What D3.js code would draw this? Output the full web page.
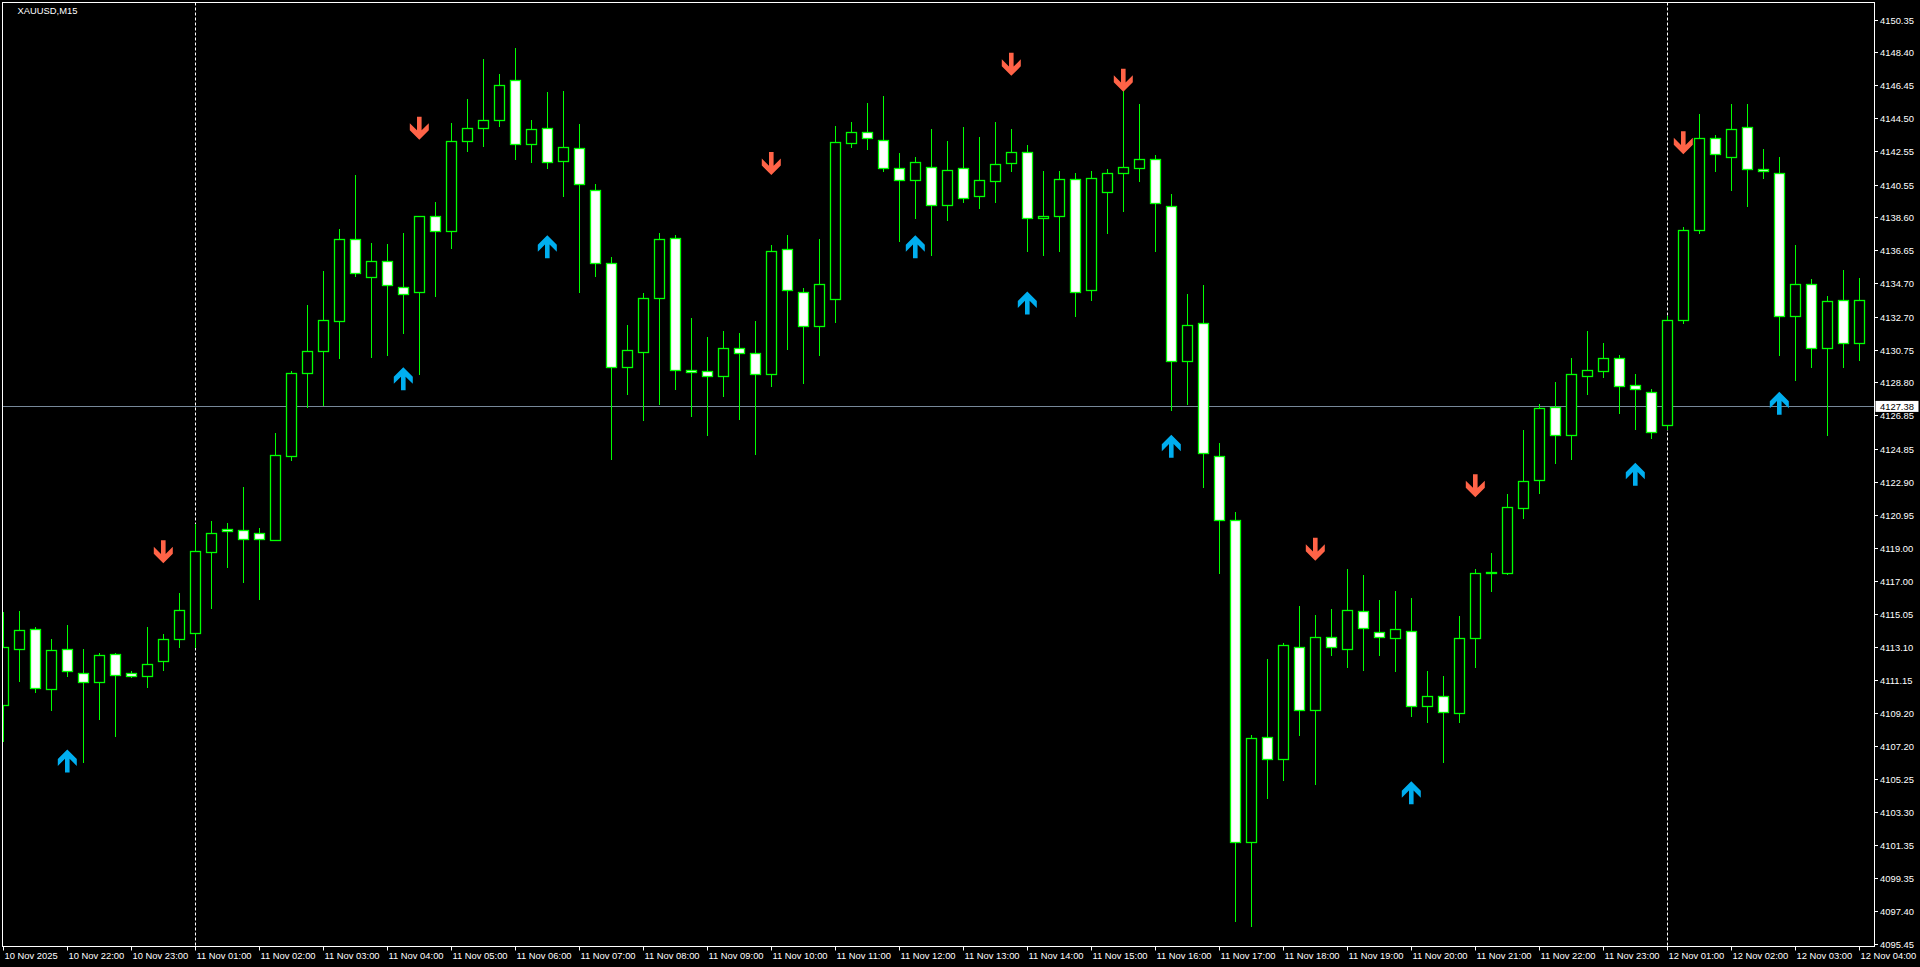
<!DOCTYPE html>
<html><head><meta charset="utf-8">
<script src="https://cdn.jsdelivr.net/npm/d3@7"></script>
<style>html,body{margin:0;padding:0;background:#000;overflow:hidden}svg{display:block}</style>
</head><body>
<script>
const symbolTitle = "XAUUSD,M15";
const opens  = [4109.63,4112.98,4114.14,4110.58,4112.98,4111.52,4111.01,4112.68,4111.52,4111.38,4112.25,4113.56,4113.90,4118.75,4120.08,4120.03,4119.84,4119.42,4124.41,4129.34,4130.65,4132.43,4137.30,4135.08,4135.99,4134.45,4134.19,4138.66,4137.78,4143.12,4143.89,4144.36,4146.74,4142.94,4143.89,4141.98,4142.71,4140.24,4135.88,4129.70,4130.64,4133.84,4137.40,4129.55,4129.48,4129.19,4130.86,4130.57,4129.33,4136.75,4134.20,4132.17,4133.77,4143.00,4143.66,4143.22,4141.55,4140.82,4141.62,4139.37,4141.55,4139.88,4140.75,4141.84,4142.49,4138.57,4138.71,4140.89,4134.28,4140.09,4141.26,4141.55,4142.06,4139.29,4130.06,4132.31,4124.46,4120.61,4101.49,4107.74,4106.43,4113.12,4109.34,4113.70,4112.98,4115.23,4113.99,4113.63,4114.06,4109.56,4110.21,4109.19,4113.63,4117.48,4117.48,4121.34,4123.01,4127.37,4125.70,4129.19,4129.48,4130.28,4128.68,4128.24,4126.28,4132.53,4137.84,4143.29,4142.20,4143.95,4141.48,4141.26,4132.75,4134.64,4130.86,4133.70,4131.15];
const highs  = [4115.16,4115.23,4114.29,4113.56,4114.39,4112.98,4112.76,4112.76,4111.67,4114.29,4113.85,4116.30,4120.38,4120.57,4120.46,4122.59,4120.16,4125.80,4129.50,4133.40,4135.42,4137.91,4141.12,4137.06,4137.00,4137.67,4138.66,4139.50,4144.19,4145.63,4148.01,4147.12,4148.66,4144.36,4146.03,4146.13,4144.17,4140.60,4136.24,4132.24,4134.13,4137.70,4137.55,4132.61,4131.51,4131.88,4131.73,4132.46,4136.97,4137.55,4134.42,4137.33,4144.02,4144.24,4145.40,4145.84,4142.42,4142.20,4143.88,4143.15,4143.95,4143.37,4144.24,4143.88,4142.93,4141.33,4141.33,4141.26,4141.33,4141.48,4146.20,4145.33,4142.28,4140.02,4134.06,4134.57,4125.19,4121.12,4107.88,4112.39,4113.34,4115.52,4115.01,4115.37,4117.70,4117.34,4115.88,4116.39,4116.03,4111.67,4111.38,4114.94,4117.70,4118.65,4122.18,4125.97,4127.52,4128.82,4130.28,4131.88,4131.15,4130.42,4129.33,4128.39,4132.75,4138.06,4144.75,4143.51,4145.33,4145.33,4142.64,4142.20,4136.97,4134.93,4133.91,4135.51,4135.00];
const lows   = [4107.52,4111.08,4110.43,4109.34,4111.38,4106.29,4108.83,4107.81,4111.30,4110.72,4111.74,4113.12,4113.12,4115.42,4117.86,4116.97,4115.94,4119.42,4124.20,4127.36,4127.44,4130.27,4135.14,4130.33,4130.43,4131.75,4129.28,4133.95,4136.80,4142.56,4142.86,4144.04,4142.09,4141.91,4141.55,4139.88,4134.20,4135.15,4124.24,4128.10,4126.57,4127.52,4128.39,4126.79,4125.70,4128.02,4126.64,4124.53,4128.61,4130.79,4128.75,4130.42,4132.39,4142.79,4142.64,4141.33,4137.19,4138.57,4136.39,4138.42,4139.51,4139.15,4139.51,4141.33,4136.60,4136.39,4136.60,4132.75,4133.70,4137.70,4139.00,4140.75,4136.60,4127.15,4127.52,4122.57,4117.48,4096.83,4096.54,4104.10,4105.19,4107.88,4104.98,4112.61,4111.88,4111.74,4112.61,4111.67,4108.97,4108.61,4106.29,4108.61,4111.88,4116.39,4117.40,4120.77,4122.26,4124.03,4124.24,4128.10,4129.12,4127.01,4126.06,4125.48,4126.06,4132.31,4137.70,4141.33,4140.24,4139.29,4140.97,4130.42,4128.97,4129.70,4125.70,4129.70,4130.13];
const closes = [4113.12,4114.10,4110.65,4112.90,4111.67,4111.01,4112.61,4111.45,4111.38,4112.10,4113.56,4115.27,4118.78,4119.84,4119.96,4119.48,4119.48,4124.48,4129.34,4130.65,4132.49,4137.30,4135.28,4135.99,4134.57,4134.04,4138.66,4137.78,4143.12,4143.89,4144.36,4146.44,4142.94,4143.83,4141.91,4142.78,4140.60,4135.88,4129.70,4130.71,4133.84,4137.33,4129.55,4129.41,4129.19,4130.86,4130.57,4129.33,4136.60,4134.28,4132.17,4134.64,4143.08,4143.66,4143.29,4141.55,4140.82,4141.91,4139.37,4141.40,4139.73,4140.82,4141.77,4142.49,4138.57,4138.71,4140.89,4134.20,4140.97,4141.26,4141.62,4142.06,4139.44,4130.06,4132.24,4124.61,4120.61,4101.49,4107.67,4106.43,4113.19,4109.34,4113.70,4113.12,4115.30,4114.21,4113.70,4114.14,4109.56,4110.21,4109.26,4113.63,4117.48,4117.55,4121.41,4122.94,4127.30,4125.70,4129.33,4129.55,4130.28,4128.61,4128.39,4125.84,4132.53,4137.84,4143.29,4142.35,4143.88,4141.48,4141.33,4132.75,4134.64,4130.86,4133.62,4131.15,4133.70];

const upArrowBars    = [4, 25, 34, 57, 64, 73, 88, 102, 111];
const upArrowPrices  = [4107.01, 4129.70, 4137.55, 4137.55, 4134.21, 4125.70, 4105.12, 4124.03, 4128.25];
const downArrowBars  = [10, 26, 48, 63, 70, 82, 92, 105];
const downArrowPrices= [4118.07, 4143.22, 4141.12, 4147.01, 4146.06, 4118.21, 4121.99, 4142.35];

const priceTicks = [4150.35,4148.40,4146.45,4144.50,4142.55,4140.55,4138.60,4136.65,4134.70,4132.70,4130.75,4128.80,4126.85,4124.85,4122.90,4120.95,4119.00,4117.00,4115.05,4113.10,4111.15,4109.20,4107.20,4105.25,4103.30,4101.35,4099.35,4097.40,4095.45];
const timeLabels = ["10 Nov 2025","10 Nov 22:00","10 Nov 23:00","11 Nov 01:00","11 Nov 02:00","11 Nov 03:00","11 Nov 04:00","11 Nov 05:00","11 Nov 06:00","11 Nov 07:00","11 Nov 08:00","11 Nov 09:00","11 Nov 10:00","11 Nov 11:00","11 Nov 12:00","11 Nov 13:00","11 Nov 14:00","11 Nov 15:00","11 Nov 16:00","11 Nov 17:00","11 Nov 18:00","11 Nov 19:00","11 Nov 20:00","11 Nov 21:00","11 Nov 22:00","11 Nov 23:00","12 Nov 01:00","12 Nov 02:00","12 Nov 03:00","12 Nov 04:00"];
const barsPerLabel = 4;
const daySeparatorBars = [12, 104];
const bidPrice = 4127.38;

const W = 1920, H = 967;
const frame = {l: 2.5, t: 2.5, r: 1874.5, b: 946.5};
const GREEN = "#00FF00", FG = "#FFFFFF", BID = "#778899";
const RED = "#FF6347", BLUE = "#00AEEF";
const FONT = "'Liberation Sans', Arial, sans-serif";
const FS = 9.4;

const svg = d3.select("body").append("svg").attr("width", W).attr("height", H)
  .style("background", "#000");

const n = opens.length;
const x = d3.scaleLinear().domain([0, n - 1]).range([3.3, 3.3 + 16 * (n - 1)]);
const y = d3.scaleLinear().domain([4095.45, 4150.35]).range([944.1, 19.6]);
const px = i => Math.round(x(i)) + 0.5;

svg.append("defs").append("clipPath").attr("id", "plot")
  .append("rect").attr("x", frame.l).attr("y", frame.t)
  .attr("width", frame.r - frame.l).attr("height", frame.b - frame.t);

const plot = svg.append("g").attr("clip-path", "url(#plot)");

// day separators
plot.selectAll("line.sep").data(daySeparatorBars).enter().append("line")
  .attr("x1", d => px(d)).attr("x2", d => px(d))
  .attr("y1", frame.t).attr("y2", frame.b)
  .attr("stroke", FG).attr("stroke-width", 1).attr("stroke-dasharray", "3,2");

// bid line
plot.append("line").attr("x1", frame.l).attr("x2", frame.r)
  .attr("y1", Math.round(y(bidPrice)) + 0.5).attr("y2", Math.round(y(bidPrice)) + 0.5)
  .attr("stroke", BID).attr("stroke-width", 1);

// candles
const bars = d3.range(n).map(i => ({i, o: opens[i], h: highs[i], l: lows[i], c: closes[i]}));
const g = plot.append("g");
g.selectAll("line.wick").data(bars).enter().append("line")
  .attr("x1", d => px(d.i)).attr("x2", d => px(d.i))
  .attr("y1", d => Math.round(y(d.h))).attr("y2", d => Math.round(y(d.l)) + 1)
  .attr("stroke", GREEN).attr("stroke-width", 1);
g.selectAll("rect.body").data(bars).enter().append("rect")
  .attr("x", d => px(d.i) - 5)
  .attr("y", d => Math.round(y(Math.max(d.o, d.c))) + 0.5)
  .attr("width", 10)
  .attr("height", d => Math.max(1, Math.round(y(Math.min(d.o, d.c))) - Math.round(y(Math.max(d.o, d.c)))))
  .attr("fill", d => d.c >= d.o ? "#000" : "#FFF")
  .attr("stroke", GREEN).attr("stroke-width", 1.3);

// arrows
const downPath = "M0,0 L9.5,-9.5 L9.5,-16.5 L2.3,-9.3 L2.3,-23 L-2.3,-23 L-2.3,-9.3 L-9.5,-16.5 L-9.5,-9.5 Z";
const upPath = "M0,0 L9.5,9.5 L9.5,16.5 L2.3,9.3 L2.3,23 L-2.3,23 L-2.3,9.3 L-9.5,16.5 L-9.5,9.5 Z";
plot.selectAll("path.dn").data(downArrowBars.map((b, k) => ({b, p: downArrowPrices[k]}))).enter()
  .append("path").attr("d", downPath)
  .attr("transform", d => `translate(${x(d.b)},${y(d.p)})`)
  .attr("fill", RED);
plot.selectAll("path.up").data(upArrowBars.map((b, k) => ({b, p: upArrowPrices[k]}))).enter()
  .append("path").attr("d", upPath)
  .attr("transform", d => `translate(${x(d.b)},${y(d.p)})`)
  .attr("fill", BLUE);

// frame
svg.append("rect").attr("x", frame.l).attr("y", frame.t)
  .attr("width", frame.r - frame.l).attr("height", frame.b - frame.t)
  .attr("fill", "none").attr("stroke", FG).attr("stroke-width", 1);

// title
svg.append("text").attr("x", 17.5).attr("y", 14).text(symbolTitle)
  .attr("fill", FG).attr("font-family", FONT).attr("font-size", FS);

// price axis
const pa = svg.append("g");
priceTicks.forEach(p => {
  const yy = Math.round(y(p)) + 0.5;
  pa.append("line").attr("x1", frame.r).attr("x2", frame.r + 3.5).attr("y1", yy).attr("y2", yy)
    .attr("stroke", FG).attr("stroke-width", 1);
  pa.append("text").attr("x", frame.r + 5.5).attr("y", yy).attr("dy", "0.35em")
    .text(p.toFixed(2)).attr("fill", FG).attr("font-family", FONT).attr("font-size", FS);
});

// bid label
const by = y(bidPrice);
pa.append("rect").attr("x", frame.r + 1).attr("y", by - 5.5).attr("width", 43).attr("height", 11).attr("fill", "#FFF");
pa.append("text").attr("x", frame.r + 5.5).attr("y", by).attr("dy", "0.35em").text(bidPrice.toFixed(2))
  .attr("fill", "#000").attr("font-family", FONT).attr("font-size", FS);

// time axis
const ta = svg.append("g");
timeLabels.forEach((t, k) => {
  const xx = px(k * barsPerLabel);
  ta.append("line").attr("x1", xx).attr("x2", xx).attr("y1", frame.b).attr("y2", frame.b + 4)
    .attr("stroke", FG).attr("stroke-width", 1);
  ta.append("text").attr("x", xx + 1).attr("y", frame.b + 12.5).text(t)
    .attr("fill", FG).attr("font-family", FONT).attr("font-size", FS);
});
</script>
</body></html>
